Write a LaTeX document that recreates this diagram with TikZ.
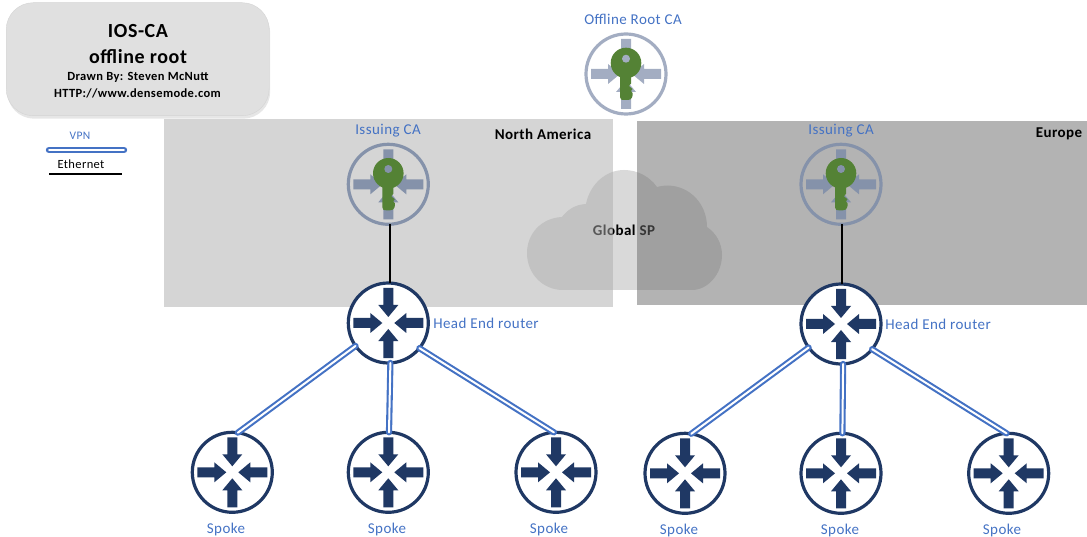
\documentclass[tikz,border=0pt]{standalone}
\usepackage{fontspec}
\setmainfont[LetterSpace=3]{Carlito}
\usetikzlibrary{shadows}

\definecolor{routernavy}{HTML}{1F3864}
\definecolor{labelblue}{HTML}{4472C4}
\definecolor{keygreen}{HTML}{548235}
\definecolor{ringlight}{HTML}{A3ADC2}
\definecolor{ringdark}{HTML}{8592AA}

% four arrows pointing at the middle of a node
\newcommand{\crossarrows}[2]{%
    \foreach \ang in {0,90,180,270}{
        \fill [#2,shift={(#1.center)},rotate=\ang] (6,0) -- (18,10) -- (18,5) -- (35,5) -- (35,-5) -- (18,-5) -- (18,-10) -- cycle;
    }
}
\newcommand{\keyglyph}[2]{%
    \begin{scope}[shift={(#1.center)}]
        \fill [keygreen] (0,-11) circle (15.3);
        \fill [keygreen] (-6,0) -- (-6,23) .. controls (-6,26) and (-4,26) .. (-2,26) -- (2,26) .. controls (6,26) and (7,22) .. (6.5,19) -- (5,17) -- (6.5,15) -- (3,12) -- (5,9.5) -- (5,0) -- cycle;
        \fill [#2] (0,-15.3) circle (4);
    \end{scope}
}

\tikzset{
    router/.style={circle,draw=routernavy,fill=white,line width=3.2pt,minimum size=80pt,inner sep=0pt,outer sep=0pt},
    cakey/.style={circle,draw=#1,line width=3.2pt,minimum size=80pt,inner sep=0pt,outer sep=0pt},
    bluelabel/.style={text=labelblue,inner sep=0pt,font=\fontsize{15}{16}\selectfont},
    regionlabel/.style={text=black,inner sep=0pt,font=\fontsize{15}{16}\selectfont\bfseries},
    vpn/.style={draw=labelblue,double=white,double distance=2pt,line width=2.1pt,line cap=round},
    ethernet/.style={draw=black,line width=2pt},
}

\begin{document}
\begin{tikzpicture}[x=1pt,y=-1pt]
    \useasboundingbox (0,0) rectangle (1087,537);

    % cloud sits under the two regions
    \fill [fill=black!15] (563,290) .. controls (543,290) and (527,274) .. (527,253) .. controls (527,234) and (541,218) .. (562,217)
        .. controls (568,209) and (576,204.5) .. (586,204) .. controls (590,184) and (606,170) .. (624,170)
        .. controls (638,170) and (650,177) .. (657,187) .. controls (661,186) and (664,185.5) .. (668,185.5)
        .. controls (690,186) and (707,204) .. (707,227) .. controls (716,233) and (722,243) .. (722,255)
        .. controls (722,274) and (708,290) .. (692,290) -- cycle;
    \node [regionlabel] (globalsp) at (624,230) {Global SP};

    \fill [fill={rgb,255:red,172;green,172;blue,172},fill opacity=0.51] (164,119) rectangle (612.7,306.7);
    \fill [fill={rgb,255:red,106;green,106;blue,106},fill opacity=0.51] (637.3,120.7) rectangle (1087,305);
    \node [regionlabel] (america) at (543,134) {North America};
    \node [regionlabel] (europe) at (1059,133.5) {Europe};

    % title box
    \node [draw=black!17,fill=black!12,rounded corners=27pt,minimum width=263pt,minimum height=113pt,inner sep=0pt,
        drop shadow={opacity=0.2,shadow xshift=1pt,shadow yshift=-3pt}] (titlebox) at (137.7,59.2) {};
    \node [inner sep=0pt,font=\fontsize{20}{21}\selectfont\bfseries] (title) at (138,31) {IOS-CA};
    \node [inner sep=0pt,font=\fontsize{20}{21}\selectfont\bfseries] (subtitle) at (138,57) {offline root};
    \node [inner sep=0pt,font=\fontsize{12.5}{14}\selectfont\bfseries] (drawnby) at (138,77) {Drawn By: Steven McNutt};
    \node [inner sep=0pt,font=\fontsize{12.5}{14}\selectfont\bfseries] (website) at (137.5,93) {HTTP://www.densemode.com};

    % legend
    \node [bluelabel,font=\fontsize{11.5}{12}\selectfont] (vpnlabel) at (80,136) {VPN};
    \coordinate (vpnleft) at (49,150);
    \coordinate (vpnright) at (124,150);
    \draw [vpn,line width=2.4pt,double distance=1.6pt] (vpnleft) -- (vpnright);
    \node [inner sep=0pt,font=\fontsize{12.5}{13}\selectfont] (ethlabel) at (81,164) {Ethernet};
    \coordinate (ethleft) at (49,174);
    \coordinate (ethright) at (121.5,174);
    \draw [ethernet] (ethleft) -- (ethright);

    % CA servers
    \node [cakey=ringlight] (rootca) at (626,74) {};
    \node [cakey=ringdark] (issuea) at (388.3,184.3) {};
    \node [cakey=ringdark] (issueb) at (841,184.3) {};
    \crossarrows{rootca}{ringlight}
    \crossarrows{issuea}{ringdark}
    \crossarrows{issueb}{ringdark}
    \keyglyph{rootca}{ringlight}
    \keyglyph{issuea}{ringdark}
    \keyglyph{issueb}{ringdark}
    \node [bluelabel] (rootlabel) at (633,19) {Offline Root CA};
    \node [bluelabel] (issuealabel) at (388,131) {Issuing CA};
    \node [bluelabel] (issueblabel) at (841,131) {Issuing CA};

    % routers
    \node [router] (heada) at (388.3,323) {};
    \node [router] (headb) at (841,324) {};
    \node [router] (spokea) at (232.3,472.3) {};
    \node [router] (spokeb) at (388.3,472.3) {};
    \node [router] (spokec) at (556,472.3) {};
    \node [router] (spoked) at (685,473.3) {};
    \node [router] (spokee) at (841,473.3) {};
    \node [router] (spokef) at (1008.7,473.3) {};
    \foreach \nd in {heada,headb,spokea,spokeb,spokec,spoked,spokee,spokef}{
        \crossarrows{\nd}{routernavy}
    }

    \node [bluelabel] (headalabel) at (486,323) {Head End router};
    \node [bluelabel] (headblabel) at (938,324) {Head End router};
    \node [bluelabel] (spokealabel) at (226,529) {Spoke};
    \node [bluelabel] (spokeblabel) at (387,529) {Spoke};
    \node [bluelabel] (spokeclabel) at (549,529) {Spoke};
    \node [bluelabel] (spokedlabel) at (679,530) {Spoke};
    \node [bluelabel] (spokeelabel) at (840,530) {Spoke};
    \node [bluelabel] (spokeflabel) at (1002,530) {Spoke};

    \draw [ethernet] (issuea.272) -- (heada.88);
    \draw [ethernet] (issueb.272) -- (headb.88);

    \draw [vpn] (heada.215) -- (spokea.82);
    \draw [vpn] (heada.273) -- (spokeb.89);
    \draw [vpn] (heada.321) -- (spokec.93);
    \draw [vpn] (headb.216) -- (spoked.81);
    \draw [vpn] (headb.273) -- (spokee.88);
    \draw [vpn] (headb.321) -- (spokef.93);
\end{tikzpicture}
\end{document}
